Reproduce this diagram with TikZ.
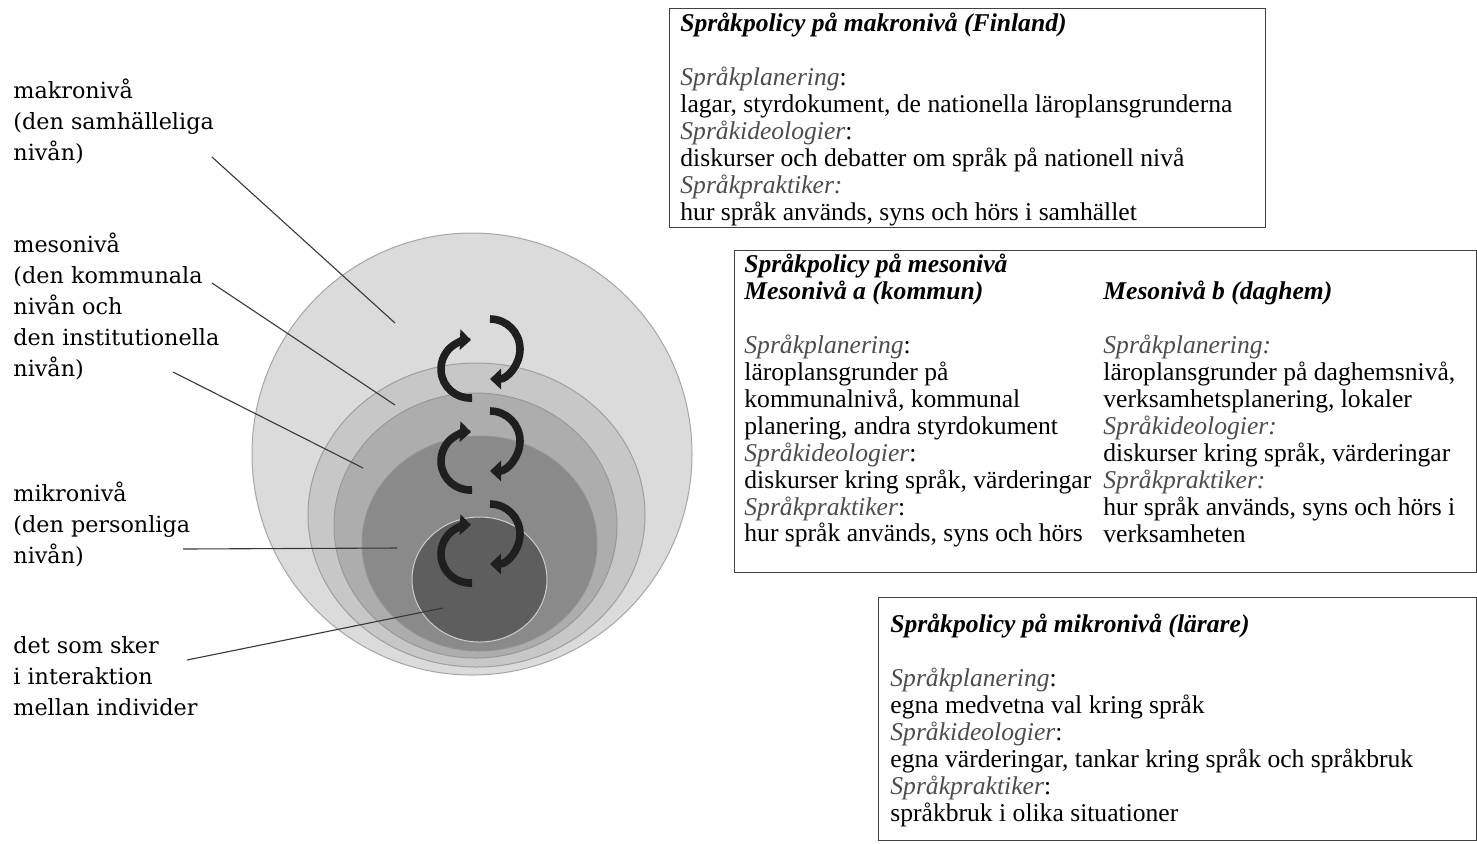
\documentclass[tikz,border=0pt]{standalone}
\usepackage{fontspec}
\setmainfont{Liberation Serif}
\newfontfamily\labfont{DejaVu Serif}
\usetikzlibrary{arrows.meta}
\definecolor{ringA}{gray}{0.86}
\definecolor{ringB}{gray}{0.78}
\definecolor{ringC}{gray}{0.68}
\definecolor{ringD}{gray}{0.54}
\definecolor{ringE}{gray}{0.37}
\definecolor{sub}{gray}{0.30}
\begin{document}
\begin{tikzpicture}[x=0.5pt,y=-0.5pt,
  lab/.style={anchor=north west, inner sep=0pt, align=left, font=\labfont\fontsize{11.15}{15.5}\selectfont},
  boxtext/.style={anchor=north west, inner sep=0pt, align=left, font=\fontsize{12.8}{13.45}\selectfont},
  frame/.style={draw=black!75, line width=0.6pt, fill=none, inner sep=0pt, anchor=north west},
  lead/.style={draw=black!78, line width=0.55pt},
  ring/.style={line width=0.5pt},
  cyc/.style={line width=3.8pt, draw=black!88, -{Triangle[length=5.5pt,width=10pt]}}
]
\useasboundingbox (0,0) rectangle (1477,843);
\fill[white] (0,0) rectangle (1477,843);

% nested circles
\path[ring, fill=ringA, draw=gray!70] (472,454) ellipse [x radius=220, y radius=221];
\path[ring, fill=ringB, draw=gray!75] (476.5,515) ellipse [x radius=168.5, y radius=152];
\path[ring, fill=ringC, draw=gray!80] (475.5,525.5) ellipse [x radius=141.5, y radius=132.5];
\path[ring, fill=ringD, draw=gray!85] (479.5,543.5) ellipse [x radius=117.5, y radius=107.5];
\path[ring, fill=ringE, draw=gray!40] (479.5,579.5) ellipse [x radius=67.5, y radius=62.5];

% left labels
\node[lab] (makro) at (13,79) {makronivå\\(den samhälleliga\\nivån)};
\node[lab] (meso) at (13,233) {mesonivå\\(den kommunala\\nivån och\\den institutionella\\nivån)};
\node[lab] (mikro) at (13,482) {mikronivå\\(den personliga\\nivån)};
\node[lab] (inter) at (13,636) {det som sker\\i interaktion\\mellan individer};

% leader lines
\coordinate (l1s) at (212,157); \coordinate (l1e) at (395,323);
\coordinate (l2s) at (212,283); \coordinate (l2e) at (395,405);
\coordinate (l3s) at (173,372); \coordinate (l3e) at (363,468);
\coordinate (l4s) at (183,549); \coordinate (l4e) at (397,548);
\coordinate (l5s) at (187,660); \coordinate (l5e) at (443,608);
\draw[lead] (l1s) -- (l1e);
\draw[lead] (l2s) -- (l2e);
\draw[lead] (l3s) -- (l3e);
\draw[lead] (l4s) -- (l4e);
\draw[lead] (l5s) -- (l5e);

% cycle arrows
\foreach \dy in {0,92,185}{
  \begin{scope}[shift={(0,\dy)}]
    \draw[cyc] (470,369) ++(86:29) arc[start angle=86, end angle=272, radius=29];
    \draw[cyc] (490,349) ++(-90:30) arc[start angle=-90, end angle=90, radius=30];
  \end{scope}
}

% box makro
\node[frame, minimum width=298pt, minimum height=109.5pt] (bmakro) at (669,8) {};
\node[boxtext] (tmakro) at (680,13) {\textbf{\textit{Språkpolicy på makronivå (Finland)}}\\[13.45pt]
{\color{sub}\textit{Språkplanering}}:\\
lagar, styrdokument, de nationella läroplansgrunderna\\
{\color{sub}\textit{Språkideologier}}:\\
diskurser och debatter om språk på nationell nivå\\
{\color{sub}\textit{Språkpraktiker:}}\\
hur språk används, syns och hörs i samhället};

% box meso
\node[frame, minimum width=371pt, minimum height=161pt] (bmeso) at (734,250) {};
\node[boxtext] (tmesoa) at (744,254) {\textbf{\textit{Språkpolicy på mesonivå}}\\
\textbf{\textit{Mesonivå a (kommun)}}\\[13.45pt]
{\color{sub}\textit{Språkplanering}}:\\
läroplansgrunder på\\
kommunalnivå, kommunal\\
planering, andra styrdokument\\
{\color{sub}\textit{Språkideologier}}:\\
diskurser kring språk, värderingar\\
{\color{sub}\textit{Språkpraktiker}}:\\
hur språk används, syns och hörs};
\node[boxtext] (tmesob) at (1103,281) {\textbf{\textit{Mesonivå b (daghem)}}\\[13.45pt]
{\color{sub}\textit{Språkplanering:}}\\
läroplansgrunder på daghemsnivå,\\
verksamhetsplanering, lokaler\\
{\color{sub}\textit{Språkideologier:}}\\
diskurser kring språk, värderingar\\
{\color{sub}\textit{Språkpraktiker:}}\\
hur språk används, syns och hörs i\\
verksamheten};

% box mikro
\node[frame, minimum width=299pt, minimum height=121.5pt] (bmikro) at (878,597) {};
\node[boxtext] (tmikro) at (890,614) {\textbf{\textit{Språkpolicy på mikronivå (lärare)}}\\[13.45pt]
{\color{sub}\textit{Språkplanering}}:\\
egna medvetna val kring språk\\
{\color{sub}\textit{Språkideologier}}:\\
egna värderingar, tankar kring språk och språkbruk\\
{\color{sub}\textit{Språkpraktiker}}:\\
språkbruk i olika situationer};
\end{tikzpicture}
\end{document}
